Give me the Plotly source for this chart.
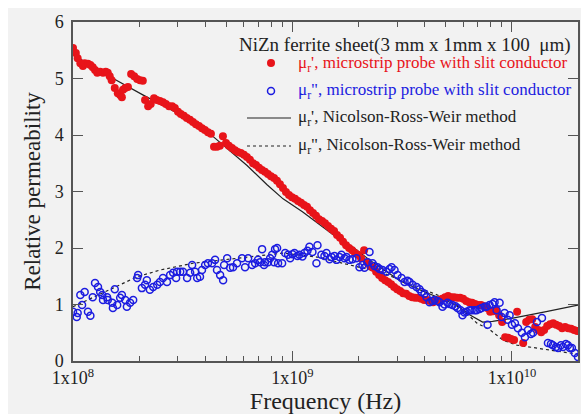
import plotly.graph_objects as go

# ---------------- data ----------------
# mu_r' measured with microstrip probe (frequency in GHz)
red_f = [0.100, 0.103, 0.105, 0.108, 0.111, 0.113, 0.117, 0.120, 0.123, 0.126,
         0.129, 0.133, 0.137, 0.141, 0.144, 0.147, 0.150, 0.155, 0.160, 0.164,
         0.167, 0.169, 0.173, 0.178, 0.184, 0.190, 0.196, 0.202, 0.208, 0.213,
         0.220, 0.226, 0.234, 0.241, 0.249, 0.257, 0.265, 0.274, 0.283, 0.291,
         0.301, 0.310, 0.320, 0.330, 0.341, 0.352, 0.363, 0.375, 0.387, 0.399,
         0.412, 0.425, 0.439, 0.453, 0.467, 0.482, 0.498, 0.513, 0.530, 0.547,
         0.564, 0.582, 0.601, 0.620, 0.640, 0.661, 0.682, 0.704, 0.726, 0.749,
         0.773, 0.798, 0.824, 0.850, 0.877, 0.905, 0.934, 0.964, 0.995, 1.027,
         1.060, 1.094, 1.129, 1.165, 1.202, 1.241, 1.280, 1.321, 1.364, 1.407,
         1.452, 1.499, 1.547, 1.596, 1.647, 1.700, 1.755, 1.811, 1.869, 1.929,
         1.990, 2.054, 2.120, 2.188, 2.258, 2.330, 2.405, 2.482, 2.561, 2.643,
         2.728, 2.815, 2.905, 2.998, 3.094, 3.193, 3.295, 3.401, 3.509, 3.622,
         3.738, 3.857, 3.980, 4.108, 4.239, 4.375, 4.515, 4.659, 4.808, 4.962,
         5.120, 5.284, 5.453, 5.628, 5.808, 5.993, 6.185, 6.383, 6.587, 6.797,
         7.015, 7.239, 7.470, 7.709, 7.956, 8.210, 8.473, 8.744, 9.024, 9.312,
         9.610, 9.917, 10.23, 10.56, 11.25, 11.61, 11.98, 12.37, 12.76, 13.17,
         13.59, 14.02, 14.47, 14.93, 15.41, 15.90, 16.41, 16.93, 17.47, 18.03,
         18.61, 19.20, 19.82]
red_mu = [5.54, 5.45, 5.36, 5.27, 5.22, 5.27, 5.26, 5.24, 5.20, 5.15,
          5.10, 5.12, 5.10, 5.12, 5.10, 5.04, 4.97, 4.83, 4.74, 4.71,
          4.67, 4.80, 4.83, 4.85, 5.08, 5.04, 4.99, 4.97, 4.96, 4.62,
          4.51, 4.55, 4.65, 4.62, 4.60, 4.58, 4.55, 4.51, 4.51, 4.48,
          4.41, 4.37, 4.34, 4.30, 4.27, 4.23, 4.19, 4.16, 4.12, 4.09,
          4.05, 4.02, 3.79, 3.79, 3.81, 3.98, 3.86, 3.81, 3.77, 3.73,
          3.70, 3.68, 3.65, 3.61, 3.56, 3.50, 3.47, 3.42, 3.38, 3.35,
          3.31, 3.27, 3.24, 3.19, 3.13, 3.06, 2.99, 2.94, 2.90, 2.87,
          2.83, 2.80, 2.76, 2.73, 2.67, 2.62, 2.57, 2.51, 2.48, 2.44,
          2.39, 2.34, 2.30, 2.23, 2.18, 2.11, 2.05, 2.00, 1.96, 1.91,
          1.88, 1.82, 1.96, 1.75, 1.68, 1.65, 1.58, 1.52, 1.47, 1.43,
          1.40, 1.36, 1.31, 1.27, 1.24, 1.20, 1.19, 1.15, 1.13, 1.12,
          1.12, 1.10, 1.08, 1.08, 1.06, 1.04, 1.06, 1.08, 1.10, 1.13,
          1.15, 1.13, 1.13, 1.12, 1.12, 1.10, 1.06, 1.04, 1.03, 1.01,
          0.99, 0.99, 0.97, 0.94, 0.87, 0.88, 0.90, 0.81, 0.69, 0.42,
          0.41, 0.39, 0.37, 0.87, 0.32, 0.69, 0.73, 0.74, 0.60, 0.55,
          0.51, 0.55, 0.62, 0.65, 0.67, 0.64, 0.62, 0.58, 0.60, 0.58,
          0.57, 0.55, 0.53]

# mu_r'' measured with microstrip probe (frequency in GHz)
blue_f = [0.100, 0.104, 0.105, 0.108, 0.110, 0.113, 0.117, 0.120, 0.123, 0.126,
          0.130, 0.133, 0.136, 0.137, 0.143, 0.144, 0.151, 0.152, 0.155, 0.159,
          0.164, 0.167, 0.173, 0.176, 0.182, 0.188, 0.196, 0.198, 0.206, 0.213,
          0.217, 0.224, 0.232, 0.242, 0.249, 0.257, 0.268, 0.277, 0.286, 0.295,
          0.298, 0.308, 0.317, 0.331, 0.342, 0.349, 0.360, 0.368, 0.379, 0.387,
          0.400, 0.412, 0.430, 0.444, 0.453, 0.468, 0.483, 0.488, 0.504, 0.520,
          0.536, 0.559, 0.589, 0.608, 0.628, 0.655, 0.676, 0.697, 0.712, 0.727,
          0.742, 0.750, 0.774, 0.791, 0.808, 0.824, 0.833, 0.851, 0.860, 0.897,
          0.926, 0.955, 0.976, 1.000, 1.021, 1.054, 1.076, 1.110, 1.134, 1.170,
          1.195, 1.233, 1.286, 1.300, 1.355, 1.399, 1.429, 1.475, 1.506, 1.554,
          1.587, 1.638, 1.672, 1.726, 1.762, 1.818, 1.876, 1.957, 2.020, 2.084,
          2.129, 2.197, 2.244, 2.316, 2.365, 2.441, 2.493, 2.572, 2.683, 2.769,
          2.828, 2.918, 3.011, 3.141, 3.241, 3.344, 3.415, 3.524, 3.676, 3.793,
          3.874, 3.997, 4.082, 4.212, 4.346, 4.439, 4.580, 4.678, 4.827, 4.930,
          5.087, 5.196, 5.361, 5.530, 5.650, 5.830, 5.955, 6.082, 6.212, 6.410,
          6.547, 6.755, 6.899, 7.120, 7.271, 7.504, 7.664, 7.743, 7.908, 8.160,
          8.335, 8.512, 8.784, 8.971, 9.257, 9.553, 9.756, 10.00, 10.32, 10.65,
          11.10, 11.46, 11.83, 12.21, 12.47, 13.00, 13.70, 14.59, 15.06, 15.37,
          15.87, 16.21, 16.72, 17.08, 17.62, 17.99, 18.37, 18.76, 19.35, 19.99]
blue_mu = [0.87, 0.78, 0.85, 1.17, 0.99, 1.22, 0.87, 0.80, 1.13, 1.38,
           1.31, 1.22, 1.17, 1.08, 1.13, 1.08, 1.03, 0.94, 1.27, 0.99,
           1.12, 1.17, 1.08, 0.96, 1.03, 1.08, 1.47, 1.52, 1.29, 1.35,
           1.43, 1.26, 1.31, 1.35, 1.40, 1.47, 1.40, 1.52, 1.56, 1.47,
           1.58, 1.58, 1.58, 1.47, 1.56, 1.70, 1.58, 1.47, 1.49, 1.61,
           1.70, 1.73, 1.73, 1.79, 1.61, 1.52, 1.43, 1.70, 1.82, 1.65,
           1.66, 1.73, 1.82, 1.66, 1.82, 1.70, 1.73, 1.79, 1.75, 1.98,
           1.70, 1.75, 1.75, 1.82, 1.88, 1.75, 1.98, 2.00, 1.73, 1.73,
           1.91, 1.88, 1.82, 1.89, 1.91, 1.86, 1.88, 1.85, 1.91, 1.95,
           2.02, 1.93, 1.73, 2.05, 1.88, 1.86, 1.91, 1.80, 1.84, 1.86,
           1.79, 1.84, 1.88, 1.82, 1.84, 1.79, 1.80, 1.82, 1.66, 1.70,
           1.65, 1.75, 1.93, 1.73, 1.68, 1.66, 1.63, 1.61, 1.58, 1.63,
           1.66, 1.61, 1.52, 1.47, 1.40, 1.42, 1.40, 1.35, 1.31, 1.27,
           1.22, 1.19, 1.13, 1.04, 1.06, 1.08, 1.06, 1.04, 0.96, 1.00,
           1.03, 1.01, 0.99, 0.97, 0.94, 0.90, 0.81, 0.86, 0.87, 0.90,
           0.90, 0.90, 0.90, 0.92, 0.94, 0.96, 0.96, 0.64, 0.99, 1.01,
           1.04, 0.90, 1.03, 0.78, 0.85, 0.73, 0.81, 0.64, 0.67, 0.58,
           0.50, 0.42, 0.55, 0.48, 0.50, 0.69, 0.76, 0.32, 0.30, 0.28,
           0.25, 0.23, 0.28, 0.25, 0.30, 0.28, 0.23, 0.23, 0.14, 0.07]

# Nicolson-Ross-Weir method (frequency in GHz)
nrw1_f = [0.100, 0.1475, 0.208, 0.298, 0.421, 0.483, 0.621, 0.766, 0.906, 1.110,
          1.327, 1.587, 1.876, 2.244, 2.683, 3.173, 3.793, 4.533, 5.592, 6.410,
          7.347, 8.160, 10.10, 14.14, 20.0]
nrw1_mu = [5.42, 5.03, 4.71, 4.39, 4.02, 3.82, 3.46, 3.12, 2.87, 2.64,
           2.42, 2.19, 2.02, 1.79, 1.58, 1.40, 1.26, 1.13, 0.99, 0.82,
           0.69, 0.70, 0.76, 0.87, 0.99]
nrw2_f = [0.100, 0.1233, 0.1521, 0.1957, 0.2493, 0.3524, 0.5035, 0.712, 0.906, 1.29,
          1.83, 2.58, 3.69, 4.85, 5.98, 6.93, 7.95, 9.10, 10.54, 14.9, 20.0]
nrw2_mu = [0.96, 1.13, 1.29, 1.49, 1.61, 1.73, 1.80, 1.86, 1.91, 1.84,
           1.70, 1.56, 1.31, 1.13, 0.90, 0.67, 0.55, 0.37, 0.28, 0.19, 0.12]

x_tickvals = [1e8, 1e9, 1e10]
x_ticktext = ["1x10<sup>8</sup>", "1x10<sup>9</sup>", "1x10<sup>10</sup>"]
x_minor = [m * 10 ** e for e in (8, 9) for m in range(2, 10)] + [2e10]

title_text = "NiZn ferrite sheet(3 mm x 1mm x 100  μm)"
legend_texts = ["μ<sub>r</sub>', microstrip probe with slit conductor",
                "μ<sub>r</sub>\", microstrip probe with slit conductor",
                "μ<sub>r</sub>', Nicolson-Ross-Weir method",
                "μ<sub>r</sub>\", Nicolson-Ross-Weir method"]

RED = "#e8141a"
BLUE = "#1c1ce0"
FONT = "Liberation Serif"
W, H = 581, 414
ML, MR, MT, MB = 73, 3, 22, 53
PW, PH = W - ML - MR, H - MT - MB


def ghz(v):
    return [f * 1e9 for f in v]


def px(x):
    return (x - ML) / PW


def py(y):
    return (H - MB - y) / PH


fig = go.Figure()
fig.add_trace(go.Scatter(x=ghz(nrw2_f), y=nrw2_mu, mode="lines",
                         line=dict(color="#222222", width=1.2, dash="3px,3px"),
                         showlegend=False))
fig.add_trace(go.Scatter(x=ghz(nrw1_f), y=nrw1_mu, mode="lines",
                         line=dict(color="#222222", width=1.2),
                         showlegend=False))
fig.add_trace(go.Scatter(x=ghz(red_f), y=red_mu, mode="markers",
                         marker=dict(color=RED, size=8, line=dict(width=0)),
                         showlegend=False))
fig.add_trace(go.Scatter(x=ghz(blue_f), y=blue_mu, mode="markers",
                         marker=dict(symbol="circle-open", color=BLUE, size=7,
                                     line=dict(width=1.5, color=BLUE)),
                         showlegend=False))

shapes = [
    dict(type="rect", xref="paper", yref="paper", x0=px(8), x1=px(W + 5),
         y0=py(H + 5), y1=py(8), fillcolor="#f2f2f2", line=dict(width=0),
         layer="below"),
    dict(type="circle", xref="paper", yref="paper", x0=px(267), x1=px(275),
         y0=py(67), y1=py(59), fillcolor=RED, line=dict(width=0)),
    dict(type="circle", xref="paper", yref="paper", x0=px(267.5), x1=px(274.5),
         y0=py(94.5), y1=py(87.5), line=dict(color=BLUE, width=1.5)),
    dict(type="line", xref="paper", yref="paper", x0=px(247), x1=px(291),
         y0=py(118), y1=py(118), line=dict(color="#222222", width=1.2)),
    dict(type="line", xref="paper", yref="paper", x0=px(247), x1=px(291),
         y0=py(146), y1=py(146), line=dict(color="#222222", width=1.2, dash="3px,3px")),
]

annotations = [
    dict(text=title_text, x=px(573), y=py(45), xref="paper", yref="paper",
         xanchor="right", yanchor="middle", showarrow=False,
         font=dict(family=FONT, size=19, color="#222222")),
]
leg_y = [64, 91, 118, 146]
leg_c = [RED, BLUE, "#222222", "#222222"]
for t, yy, c in zip(legend_texts, leg_y, leg_c):
    annotations.append(dict(text=t, x=px(296), y=py(yy), xref="paper", yref="paper",
                            xanchor="left", yanchor="middle", showarrow=False,
                            font=dict(family=FONT, size=17, color=c)))

axis_common = dict(showline=True, linecolor="#555555", linewidth=1.5, mirror="ticks",
                   ticks="inside", tickcolor="#555555", tickwidth=1.2, ticklen=10,
                   showgrid=False, zeroline=False, automargin=False,
                   tickfont=dict(family=FONT, size=18, color="#222222"))

fig.update_layout(
    width=W, height=H,
    margin=dict(l=ML, r=MR, t=MT, b=MB),
    paper_bgcolor="white", plot_bgcolor="#f2f2f2",
    font=dict(family=FONT, color="#222222"),
    shapes=shapes, annotations=annotations,
    xaxis=dict(type="log", range=[8, 10.301], tickmode="array",
               tickvals=x_tickvals, ticktext=x_ticktext,
               minor=dict(tickmode="array", tickvals=x_minor, ticks="inside",
                          ticklen=5, tickcolor="#555555", tickwidth=1.2, showgrid=False),
               title=dict(text="Frequency (Hz)", standoff=9,
                          font=dict(family=FONT, size=24, color="#222222")),
               **axis_common),
    yaxis=dict(range=[0, 6], dtick=1, ticklabelstandoff=4,
               title=dict(text="Relative permeability", standoff=8,
                          font=dict(family=FONT, size=23, color="#222222")),
               **axis_common),
)

fig.write_html("out.html")
